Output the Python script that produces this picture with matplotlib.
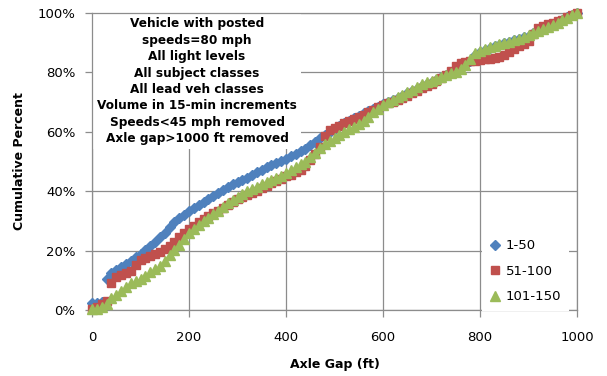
import matplotlib
matplotlib.use("Agg")
import matplotlib.pyplot as plt
from matplotlib.ticker import FuncFormatter

plt.rcParams['font.family'] = ['DejaVu Sans']

gap_ft = list(range(0, 1001, 10))

s_1_50 = [2.5, 2.5, 2.8, 10.5, 12.5, 13.5, 14.5, 15.5, 16.5, 17.8,
          19, 20.2, 21.5, 23, 24.5, 26, 27.8, 29.5, 31, 32,
          33.2, 34.3, 35.4, 36.5, 37.5, 38.5, 39.5, 40.5, 41.5, 42.3,
          43, 43.8, 44.6, 45.5, 46.3, 47.1, 48, 48.8, 49.6, 50.3,
          51, 51.8, 52.6, 53.4, 54.3, 55.4, 56.6, 57.8, 59, 60,
          61, 62, 63, 63.8, 64.6, 65.4, 66.2, 67, 67.8, 68.5,
          69.2, 70, 70.7, 71.5, 72.2, 73, 73.8, 74.5, 75.3, 76,
          76.8, 77.6, 78.4, 79.2, 80, 80.8, 81.6, 82.5, 84, 85.8,
          87, 87.6, 88.2, 88.8, 89.3, 89.8, 90.3, 90.8, 91.3, 91.8,
          92.4, 93.2, 94, 94.8, 95.5, 96.2, 97, 97.7, 98.5, 99.2,
          100]

s_51_100 = [0.3, 1, 2, 3, 9, 11, 11.8, 12.4, 13, 15,
            17, 17.6, 18.2, 18.8, 19.5, 20.5, 21.5, 23, 24.5, 26,
            27.2, 28.4, 29.5, 30.5, 31.5, 32.5, 33.5, 34.5, 35.5, 36.5,
            37.5, 38, 38.6, 39.3, 40, 41, 41.8, 42.6, 43.4, 44.2,
            45, 45.6, 46.3, 47, 48.5, 50.5, 52.5, 55, 58.5, 60.5,
            61.2, 62, 62.8, 63.5, 64.2, 65, 65.8, 66.5, 67.3, 68.2,
            69, 69.6, 70.2, 70.8, 71.4, 72.2, 73, 73.8, 74.6, 75.4,
            76.2, 77, 78, 79.2, 80.5, 82, 83, 83.4, 83.7, 84,
            84.2, 84.4, 84.6, 84.9, 85.3, 86, 87, 88, 88.8, 89.5,
            90.5, 93, 95, 95.6, 96.2, 96.7, 97.2, 97.8, 98.5, 99.3,
            100]

s_101_150 = [0.5, 0.5, 1, 2, 4, 5.2, 6.5, 7.8, 9, 9.8,
             10.5, 11.5, 12.8, 13.8, 14.8, 16.5, 18.5, 20.3, 22, 24,
             26, 27.3, 28.5, 29.8, 31, 32.3, 33.5, 34.8, 36, 37,
             38, 39, 40, 40.8, 41.5, 42.3, 43, 43.8, 44.5, 45.2,
             46, 47, 48, 49, 50, 51.5, 53, 54.5, 56, 57,
             58, 59, 60, 60.8, 61.7, 62.5, 63.5, 65, 66.5, 67.8,
             69, 70, 70.8, 71.7, 72.5, 73.4, 74.2, 75, 76, 76.6,
             77.2, 77.8, 78.5, 79.1, 79.7, 80.3, 81.2, 82.5, 84.5, 86.5,
             87.3, 87.9, 88.4, 88.9, 89.4, 89.9, 90.4, 90.9, 91.4, 92,
             92.6, 93.3, 94, 94.7, 95.4, 96.1, 96.8, 97.6, 98.4, 99.2,
             100]

series_names = ['1-50', '51-100', '101-150']
x_ticks = [0, 200, 400, 600, 800, 1000]
y_ticks = [0, 20, 40, 60, 80, 100]
note_lines = ["Vehicle with posted", "speeds=80 mph", "All light levels",
              "All subject classes", "All lead veh classes",
              "Volume in 15-min increments", "Speeds<45 mph removed",
              "Axle gap>1000 ft removed"]

fig = plt.figure(figsize=(6.07, 3.76), dpi=100)
ax = fig.add_axes([92/607, 1-310/376, (577-92)/607, (310-13)/376])

grid_c = '#8c8c8c'
ax.plot(gap_ft, s_1_50, linestyle='none', marker='D', markersize=4.6,
        color='#4F81BD', label=series_names[0], zorder=3, clip_on=False)
ax.plot(gap_ft, s_51_100, linestyle='none', marker='s', markersize=6,
        color='#C0504D', label=series_names[1], zorder=3, clip_on=False)
ax.plot(gap_ft, s_101_150, linestyle='none', marker='^', markersize=6.5,
        color='#9BBB59', label=series_names[2], zorder=3, clip_on=False)

ax.set_xlim(0, 1000)
ax.set_ylim(0, 100)
ax.set_xticks(x_ticks)
ax.set_yticks(y_ticks)
ax.yaxis.set_major_formatter(FuncFormatter(lambda v, p: f"{int(v)}%"))
ax.grid(True, color=grid_c, linewidth=0.9)
ax.set_axisbelow(True)
for s in ax.spines.values():
    s.set_color(grid_c)
    s.set_linewidth(0.9)
ax.tick_params(axis='both', direction='out', length=5, color=grid_c,
               labelsize=9.5, width=0.9)
ax.tick_params(axis='x', pad=10)
ax.tick_params(axis='y', pad=7)

ax.set_xlabel('Axle Gap (ft)', fontsize=9, fontweight='bold', labelpad=10)
ax.set_ylabel('Cumulative Percent', fontsize=9, fontweight='bold', labelpad=8)

ax.text(0.2165, 0.77, "\n".join(note_lines), transform=ax.transAxes,
        ha='center', va='center', fontsize=8.75, fontweight='bold',
        linespacing=1.34, zorder=2,
        bbox=dict(facecolor='white', edgecolor='none', pad=3))

leg = ax.legend(loc='center left', bbox_to_anchor=(0.79, 0.13), frameon=True,
                fontsize=9.5, handlelength=0.8, handletextpad=0.4,
                labelspacing=0.95, borderpad=0.6, fancybox=False)
leg.get_frame().set_edgecolor('none')
leg.get_frame().set_facecolor('white')
leg.get_frame().set_alpha(1)
leg.set_zorder(6)

fig.savefig('out.png', dpi=100)
